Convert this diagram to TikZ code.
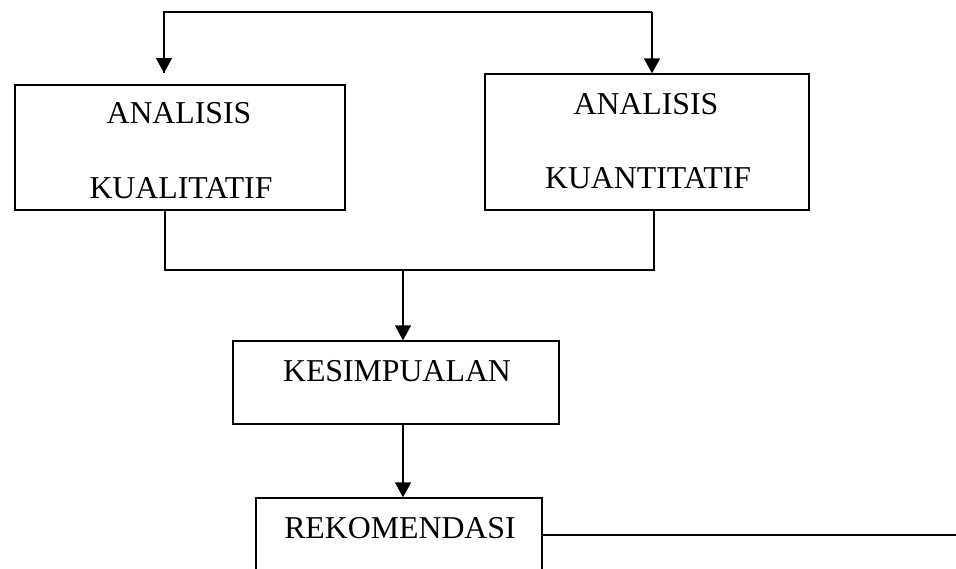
\documentclass[tikz,border=0pt]{standalone}
\usepackage{fontspec}
\setmainfont{Liberation Serif}
\usetikzlibrary{arrows.meta}
\begin{document}
\begin{tikzpicture}[x=1pt,y=-1pt,
  box/.style={draw, line width=1.3pt, rectangle, inner sep=0pt},
  lbl/.style={anchor=base, inner sep=0pt, font=\fontsize{31.8}{36}\selectfont},
  conn/.style={line width=1.3pt},
  arr/.style={line width=1.3pt, -{Triangle[length=15pt,width=16pt]}}]
\useasboundingbox (0,0) rectangle (956,568);
% boxes
\node[box, minimum width=330pt, minimum height=125pt] (kual) at (180,147.5) {};
\node[box, minimum width=324pt, minimum height=136pt] (kuan) at (647,142) {};
\node[box, minimum width=326pt, minimum height=83pt] (kes) at (396,382.5) {};
\node[box, minimum width=286pt, minimum height=100pt] (rek) at (399,548) {};
% texts
\node[lbl] (t1) at (179,123) {ANALISIS};
\node[lbl] (t2) at (181,198) {KUALITATIF};
\node[lbl] (t3) at (646,114) {ANALISIS};
\node[lbl] (t4) at (648,188) {KUANTITATIF};
\node[lbl] (t5) at (397,381) {KESIMPUALAN};
\node[lbl] (t6) at (400,538) {REKOMENDASI};
% top connector
\coordinate (tl) at (164,12);
\coordinate (tr) at (652,12);
\coordinate (al) at (164,73);
\draw[conn] (al) -- (tl) -- (tr);
\draw[arr] (tl) -- (al);
\draw[arr] (tr) -- (tr |- kuan.north);
% bottom merge
\coordinate (ml) at (165,270);
\coordinate (mr) at (654,270);
\coordinate (mc) at (403,270);
\draw[conn] (kual.south -| ml) -- (ml) -- (mr) -- (kuan.south -| mr);
\draw[arr] (mc) -- (mc |- kes.north);
\draw[arr] (kes.south -| mc) -- (mc |- rek.north);
% right line
\coordinate (rend) at (956,535);
\draw[conn] (rend -| rek.east) -- (rend);
\end{tikzpicture}
\end{document}
